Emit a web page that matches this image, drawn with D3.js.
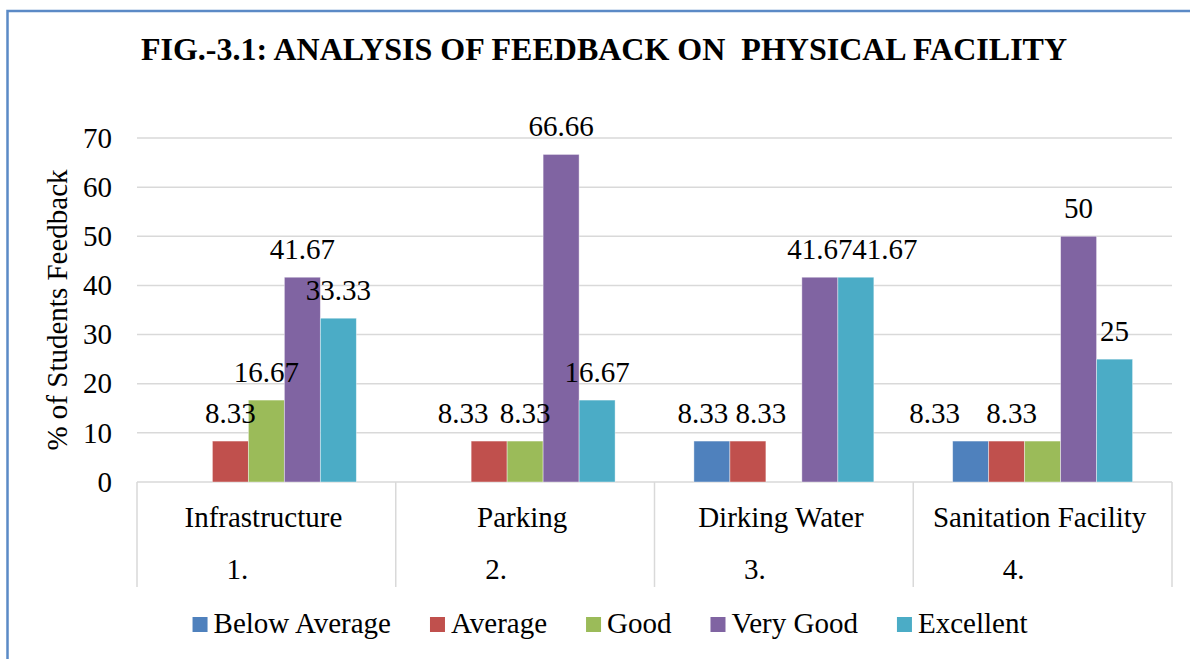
<!DOCTYPE html>
<html>
<head>
<meta charset="utf-8">
<script src="https://cdn.jsdelivr.net/npm/d3@7"></script>
</head>
<body style="margin:0;background:#fff">
<div id="chart"></div>
<script>
const width = 1190;
const height = 659;
const serifFont = "'Liberation Serif', 'Times New Roman', Times, serif";

const categories = ["Infrastructure", "Parking", "Dirking Water", "Sanitation Facility"];
const serialNos = ["1.", "2.", "3.", "4."];
const seriesNames = ["Below Average", "Average", "Good", "Very Good", "Excellent"];
const belowAverage = [0, 0, 8.33, 8.33];
const average = [8.33, 8.33, 8.33, 8.33];
const good = [16.67, 8.33, 0, 8.33];
const veryGood = [41.67, 66.66, 41.67, 50];
const excellent = [33.33, 16.67, 41.67, 25];
const yTicks = [0, 10, 20, 30, 40, 50, 60, 70];

const colors = ["#4F81BD", "#C0504D", "#9BBB59", "#8064A2", "#4BACC6"];
// hand-moved data labels in the original (dx in px), null = label removed
const labelNudge = {
    "Parking|Average": -26,
    "Dirking Water|Below Average": -9,
    "Dirking Water|Average": 13,
    "Dirking Water|Excellent": 29,
    "Sanitation Facility|Below Average": -36,
    "Sanitation Facility|Average": 5,
    "Sanitation Facility|Good": null
};

const seriesValues = [belowAverage, average, good, veryGood, excellent];
const plot = { left: 137, right: 1172, top: 138, bottom: 482 };

let svg = d3.select("#chart").append("svg")
    .attr("width", width)
    .attr("height", height);

// chart border
svg.append("rect")
    .attr("x", 7.5).attr("y", 11)
    .attr("width", 1200).attr("height", 700)
    .attr("fill", "none")
    .attr("stroke", "#5B8AC6")
    .attr("stroke-width", 2.5);

svg.append("text")
    .attr("x", 604).attr("y", 60)
    .attr("text-anchor", "middle")
    .attr("xml:space", "preserve")
    .style("font-family", serifFont)
    .style("font-size", "32px")
    .style("font-weight", "bold")
    .style("white-space", "pre")
    .text("FIG.-3.1: ANALYSIS OF FEEDBACK ON  PHYSICAL FACILITY");

let y = d3.scaleLinear()
    .domain([0, 70])
    .range([plot.bottom, plot.top]);
let x0 = d3.scaleBand()
    .domain(categories)
    .range([plot.left, plot.right])
    .padding(0);
let x1 = d3.scaleBand()
    .domain(seriesNames)
    .range([0, x0.bandwidth()])
    .paddingInner(0)
    .paddingOuter(1.095);

// gridlines
svg.append("g")
    .selectAll("line")
    .data(yTicks)
    .enter()
    .append("line")
    .attr("x1", plot.left).attr("x2", plot.right)
    .attr("y1", d => y(d)).attr("y2", d => y(d))
    .attr("stroke", "#d9d9d9")
    .attr("stroke-width", 1.5);

// y axis labels
let yAxis = svg.append("g")
    .attr("transform", `translate(${plot.left},0)`)
    .call(d3.axisLeft(y).tickValues(yTicks).tickSize(0).tickPadding(25));
yAxis.attr("font-family", null).attr("font-size", null);
yAxis.select(".domain").remove();
yAxis.selectAll("text")
    .attr("fill", "#000")
    .style("font-size", "29px")
    .style("font-family", serifFont);

svg.append("text")
    .attr("transform", `translate(67,${(plot.top + plot.bottom) / 2}) rotate(-90)`)
    .attr("text-anchor", "middle")
    .style("font-family", serifFont)
    .style("font-size", "29px")
    .text("% of Students Feedback");

// category separators
let edges = categories.map(c => x0(c)).concat([plot.right]);
svg.append("g")
    .selectAll("line")
    .data(edges)
    .enter()
    .append("line")
    .attr("x1", d => d).attr("x2", d => d)
    .attr("y1", plot.bottom).attr("y2", 587)
    .attr("stroke", "#d9d9d9")
    .attr("stroke-width", 1.5);

let catLabels = svg.append("g");
catLabels.selectAll(".cat")
    .data(categories)
    .enter()
    .append("text")
    .attr("x", d => x0(d) + x0.bandwidth() / 2 - 3)
    .attr("y", 527)
    .attr("text-anchor", "middle")
    .style("font-family", serifFont)
    .style("font-size", "29px")
    .text(d => d);
catLabels.selectAll(".sn")
    .data(serialNos)
    .enter()
    .append("text")
    .attr("x", (d, i) => x0(categories[i]) + x0.bandwidth() / 2 - 29)
    .attr("y", 579)
    .attr("text-anchor", "middle")
    .style("font-family", serifFont)
    .style("font-size", "29px")
    .text(d => d);

// bars
let rows = [];
categories.forEach((c, i) => {
    seriesNames.forEach((s, j) => {
        rows.push({ cat: c, series: s, idx: j, value: seriesValues[j][i] });
    });
});

let groups = svg.append("g");
groups.selectAll("rect")
    .data(rows.filter(d => d.value > 0))
    .enter()
    .append("rect")
    .attr("x", d => x0(d.cat) + x1(d.series))
    .attr("y", d => y(d.value))
    .attr("width", x1.bandwidth())
    .attr("height", d => y(0) - y(d.value))
    .attr("fill", d => colors[d.idx])
    .attr("stroke", "rgba(255,255,255,0.5)")
    .attr("stroke-width", 0.8);

// data labels
let labelled = rows.filter(d => d.value > 0 && labelNudge[d.cat + "|" + d.series] !== null);
groups.selectAll(".lbl")
    .data(labelled)
    .enter()
    .append("text")
    .attr("x", d => x0(d.cat) + x1(d.series) + x1.bandwidth() / 2 + (labelNudge[d.cat + "|" + d.series] || 0))
    .attr("y", d => y(d.value) - 18)
    .attr("text-anchor", "middle")
    .style("font-family", serifFont)
    .style("font-size", "29px")
    .text(d => String(d.value));

// legend
let legend = svg.append("g");
let items = legend.selectAll("g")
    .data(seriesNames)
    .enter()
    .append("g");
items.append("rect")
    .attr("width", 15).attr("height", 15)
    .attr("y", -16)
    .attr("fill", (d, i) => colors[i]);
items.append("text")
    .attr("x", 21)
    .attr("y", 0)
    .style("font-family", serifFont)
    .style("font-size", "29px")
    .text(d => d);
const legendGap = 39;
let offset = 0;
let positions = [];
items.each(function () {
    positions.push(offset);
    offset += 21 + this.querySelector("text").getComputedTextLength() + legendGap;
});
let total = offset - legendGap;
let startX = 610 - total / 2;
items.attr("transform", (d, i) => `translate(${startX + positions[i]},633)`);
</script>
</body>
</html>
